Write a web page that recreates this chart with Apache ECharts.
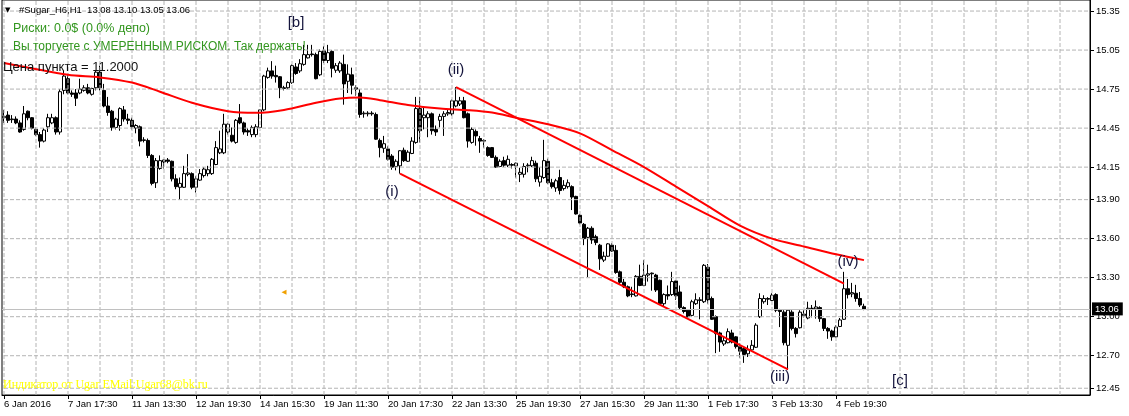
<!DOCTYPE html>
<html><head><meta charset="utf-8">
<script src="https://cdn.jsdelivr.net/npm/echarts@6/dist/echarts.min.js"></script>
<style>html,body{margin:0;padding:0;background:#fff}#c{width:1129px;height:416px}</style>
</head><body><div id="c"></div>
<script>
// ---- data (H1 bars) ----
const opens=[14.53,14.55,14.515,14.52,14.49,14.44,14.58,14.53,14.44,14.40,14.35,14.46,14.49,14.53,14.42,14.74,14.83,14.72,14.72,14.72,14.74,14.76,14.71,14.76,14.88,14.74,14.62,14.58,14.455,14.47,14.59,14.52,
14.51,14.45,14.46,14.355,14.355,14.24,14.03,14.14,14.19,14.205,14.195,14.06,13.995,13.995,14.095,14.10,13.995,14.05,14.085,14.10,14.10,14.17,14.26,14.26,14.42,14.395,14.34,14.53,14.49,14.43,14.40,14.40,
14.455,14.59,14.84,14.89,14.855,14.845,14.76,14.76,14.80,14.92,14.89,14.94,14.99,15.02,15.015,14.86,15.045,14.97,15.04,14.895,14.89,14.94,14.81,14.86,14.76,14.72,14.56,14.56,14.565,14.555,14.355,14.295,
14.29,14.235,14.155,14.16,14.28,14.195,14.255,14.34,14.60,14.53,14.53,14.56,14.44,14.51,14.54,14.56,14.56,14.62,14.635,14.66,14.56,14.34,14.425,14.37,14.355,14.30,14.30,14.225,14.155,14.20,14.165,14.17,
14.16,14.095,14.095,14.16,14.16,14.18,14.035,14.07,14.195,14.03,13.99,14.07,13.985,14.00,14.00,13.925,13.78,13.71,13.61,13.68,13.615,13.55,13.435,13.465,13.55,13.51,13.345,13.265,13.23,13.175,13.16,13.31,
13.24,13.32,13.335,13.32,13.28,13.10,13.17,13.17,13.275,13.19,13.07,13.05,13.01,13.10,13.125,13.115,13.38,13.14,13.00,12.875,12.79,12.80,12.875,12.845,12.77,12.755,12.715,12.745,12.765,13.00,13.115,13.14,
13.125,13.17,13.05,13.035,12.78,13.035,12.91,12.915,13.02,12.99,13.065,13.06,13.07,12.985,12.91,12.89,12.845,12.925,12.98,13.215,13.175,13.18,13.14,13.08];
const closes=[14.54,14.51,14.52,14.49,14.42,14.56,14.53,14.45,14.40,14.35,14.435,14.53,14.53,14.42,14.73,14.85,14.72,14.71,14.68,14.75,14.76,14.72,14.755,14.88,14.76,14.62,14.57,14.455,14.52,14.60,14.52,14.51,
14.46,14.47,14.35,14.36,14.24,14.025,14.20,14.20,14.205,14.195,14.06,14.00,14.025,14.10,14.105,13.995,14.06,14.10,14.135,14.13,14.21,14.30,14.29,14.48,14.48,14.35,14.51,14.49,14.42,14.42,14.455,14.46,
14.59,14.85,14.89,14.85,14.845,14.76,14.755,14.80,14.93,14.87,14.945,15.015,15.015,15.015,14.83,15.04,14.97,15.03,14.91,14.93,14.95,14.79,14.865,14.78,14.75,14.555,14.565,14.565,14.56,14.365,14.30,14.33,
14.21,14.15,14.195,14.276,14.20,14.265,14.35,14.60,14.43,14.55,14.56,14.43,14.42,14.54,14.56,14.57,14.66,14.66,14.66,14.53,14.35,14.44,14.39,14.35,14.35,14.24,14.225,14.15,14.195,14.165,14.21,14.165,
14.18,14.11,14.155,14.165,14.20,14.06,14.08,14.20,14.03,14.00,14.045,13.97,14.01,14.03,13.92,13.79,13.72,13.60,13.68,13.59,13.57,13.445,13.465,13.56,13.505,13.34,13.265,13.23,13.16,13.17,13.31,13.24,
13.32,13.33,13.33,13.205,13.10,13.17,13.16,13.27,13.16,13.07,13.04,13.00,13.115,13.13,13.13,13.395,13.13,12.98,12.87,12.805,12.815,12.885,12.805,12.77,12.735,12.71,12.745,12.78,12.935,13.14,13.14,13.135,
13.165,13.05,13.04,12.80,13.05,12.91,12.87,13.035,13.01,13.065,13.063,13.075,12.985,12.91,12.89,12.845,12.92,12.975,13.215,13.17,13.185,13.14,13.09,13.06];
const lows=[14.49,14.49,14.49,14.48,14.415,14.43,14.51,14.44,14.39,14.30,14.34,14.42,14.48,14.40,14.40,14.71,14.71,14.69,14.62,14.71,14.73,14.71,14.70,14.74,14.74,14.61,14.545,14.43,14.44,14.43,14.50,14.48,
14.44,14.41,14.31,14.34,14.22,14.01,13.99,14.13,14.14,14.18,14.04,13.98,13.90,13.99,14.08,13.98,13.955,14.045,14.07,14.08,14.09,14.165,14.25,14.25,14.40,14.34,14.33,14.48,14.40,14.39,14.38,14.38,
14.45,14.58,14.83,14.83,14.80,14.68,14.74,14.75,14.79,14.86,14.875,14.93,14.985,15.00,14.825,14.85,14.95,14.95,14.84,14.875,14.875,14.63,14.72,14.71,14.70,14.53,14.53,14.54,14.545,14.36,14.225,14.26,
14.20,14.13,14.125,14.10,14.19,14.19,14.25,14.33,14.34,14.44,14.38,14.40,14.39,14.455,14.39,14.545,14.545,14.61,14.62,14.525,14.30,14.33,14.315,14.26,14.30,14.23,14.22,14.145,14.15,14.15,14.15,14.14,
14.07,14.035,14.07,14.11,14.15,14.035,14.00,14.06,14.02,13.985,13.96,13.94,13.97,13.985,13.82,13.785,13.71,13.55,13.305,13.56,13.55,13.36,13.42,13.46,13.50,13.33,13.25,13.22,13.15,13.15,13.155,13.235,
13.235,13.27,13.20,13.19,13.09,13.08,13.13,13.16,13.13,13.055,13.025,12.995,13.00,13.09,12.98,13.105,13.10,12.975,12.72,12.73,12.775,12.795,12.795,12.755,12.685,12.645,12.69,12.735,12.76,12.99,13.10,13.09,
13.12,13.035,12.92,12.78,12.59,12.895,12.84,12.91,12.995,12.98,12.995,12.985,12.96,12.89,12.83,12.815,12.84,12.92,12.975,13.14,13.15,13.115,13.075,13.05];
const highs=[14.59,14.58,14.55,14.54,14.51,14.62,14.585,14.535,14.455,14.42,14.45,14.56,14.56,14.54,14.75,14.89,14.86,14.74,14.75,14.83,14.78,14.79,14.76,14.89,14.93,14.79,14.69,14.59,14.53,14.61,14.62,14.56,
14.53,14.48,14.47,14.38,14.37,14.25,14.22,14.24,14.21,14.22,14.20,14.095,14.07,14.16,14.25,14.11,14.08,14.135,14.15,14.16,14.22,14.35,14.43,14.56,14.49,14.455,14.52,14.635,14.50,14.45,14.47,14.48,
14.595,14.86,14.915,14.965,14.93,14.85,14.775,14.81,14.94,14.95,14.98,15.09,15.09,15.09,15.03,15.055,15.08,15.09,15.05,14.95,14.965,15.015,14.94,14.915,14.78,14.75,14.58,14.58,14.58,14.57,14.37,14.39,
14.31,14.25,14.21,14.28,14.30,14.28,14.38,14.69,14.69,14.61,14.58,14.57,14.47,14.56,14.58,14.595,14.67,14.765,14.69,14.69,14.57,14.455,14.44,14.39,14.365,14.31,14.305,14.24,14.21,14.23,14.24,14.18,
14.185,14.145,14.18,14.18,14.23,14.20,14.15,14.36,14.215,14.06,14.06,14.13,14.05,14.055,14.01,13.93,13.79,13.72,13.69,13.695,13.63,13.56,13.50,13.565,13.565,13.55,13.355,13.29,13.24,13.23,13.32,13.40,
13.435,13.40,13.34,13.33,13.285,13.18,13.24,13.345,13.28,13.24,13.08,13.055,13.13,13.18,13.15,13.405,13.405,13.155,13.01,12.885,12.85,12.91,12.90,12.85,12.795,12.77,12.78,12.82,12.95,13.18,13.165,13.15,
13.18,13.18,13.06,13.05,13.055,13.05,12.92,13.05,13.055,13.115,13.09,13.125,13.08,12.99,12.92,12.90,12.935,12.99,13.345,13.29,13.26,13.245,13.19,13.10];

const slotCount = 272;                       // bar slots visible across the window
const categories = Array.from({length: slotCount}, (_, i) => String(i));
const xTickLabels = ['6 Jan 2016','7 Jan 17:30','11 Jan 13:30','12 Jan 19:30','14 Jan 15:30','19 Jan 11:30','20 Jan 17:30','22 Jan 13:30','25 Jan 19:30','27 Jan 15:30','29 Jan 11:30','1 Feb 17:30','3 Feb 13:30','4 Feb 19:30'];
const yTickValues = [12.45,12.70,13.00,13.30,13.60,13.90,14.15,14.45,14.75,15.05,15.35];
const lastPrice = 13.06;

// moving average (read at sample bars)
const maBars   = [0,16,24,32,39,47,56,63,70,78,84,89,94,101,109,116,122,128,136,144,152,160,168,176,184,192,200,208,215];
const maValues = [14.95,14.86,14.84,14.80,14.73,14.645,14.58,14.568,14.59,14.645,14.678,14.686,14.665,14.627,14.60,14.588,14.57,14.53,14.48,14.41,14.28,14.15,14.00,13.85,13.70,13.60,13.54,13.48,13.435];

// channel lines [bar, price]
const channelUpper = [[113,14.765],[210,13.255]];
const channelLower = [[99,14.10],[196,12.595]];

// wave labels
const waveTexts  = ['[b]','(ii)','(i)','(iii)','(iv)','[c]'];
const waveBars   = [73,113,97,194,211,224];
const wavePrices = [15.26,14.90,13.962,12.536,13.418,12.505];

// ---- chart ----
const yMin = 12.398, yMax = 15.435;
const candleData = opens.map((o, i) => [o, closes[i], lows[i], highs[i]]);
const gridBars = [];
for (let b = 0; b < slotCount; b += 8) gridBars.push(b);
const showTick = i => i % 16 === 0 && i / 16 < xTickLabels.length;
const F = '"Liberation Sans", Arial, sans-serif';
const gridStyle = {color: '#b4b4b4', width: 1, type: 'dashed'};

// grid lines: one line series per grid line (null breaks between segments)
const vData = [];
gridBars.forEach(b => { vData.push([b, yMin], [b, yMax], [b, null]); });
const hData = [];
yTickValues.forEach(v => { hData.push([0, v], [slotCount - 1, v], [slotCount - 1, null]); });

const chart = echarts.init(document.getElementById('c'), null, {renderer: 'canvas'});
chart.setOption({
  animation: false,
  backgroundColor: '#fff',
  grid: {left: 2, top: -1, width: 1088, height: 396, show: true, borderColor: '#000', borderWidth: 1},
  xAxis: {
    type: 'category', data: categories, boundaryGap: true,
    axisLine: {show: true, lineStyle: {color: '#000', width: 1}},
    axisTick: {show: true, interval: showTick, alignWithLabel: true, length: 4, lineStyle: {color: '#000'}},
    axisLabel: {interval: showTick, formatter: (v, i) => xTickLabels[i / 16] || '', align: 'left', margin: 4,
      color: '#000', fontFamily: F, fontSize: 9.5},
    splitLine: {show: false}
  },
  yAxis: {
    type: 'value', position: 'right', min: yMin, max: yMax, scale: true,
    axisLine: {show: true, lineStyle: {color: '#000', width: 1}},
    axisTick: {show: true, customValues: yTickValues, length: 4, lineStyle: {color: '#000'}},
    axisLabel: {customValues: yTickValues, formatter: v => v.toFixed(2), color: '#000', fontFamily: F, fontSize: 9.5, margin: 6},
    splitLine: {show: false}
  },
  series: [
    {type: 'line', data: vData, symbol: 'none', connectNulls: false, silent: true, lineStyle: gridStyle, emphasis: {disabled: true}},
    {type: 'line', data: hData, symbol: 'none', connectNulls: false, silent: true, lineStyle: gridStyle, emphasis: {disabled: true}},
    {
      type: 'line', data: [], silent: true,
      markLine: {
        silent: true, symbol: ['none', 'none'], animation: false,
        lineStyle: {color: '#c0c0c0', type: 'solid', width: 1},
        emphasis: {disabled: true},
        label: {show: true, position: 'end', distance: 2, formatter: lastPrice.toFixed(2), color: '#fff',
          backgroundColor: '#000', padding: [2, 4, 1, 3], fontFamily: F, fontSize: 9.5},
        data: [{yAxis: lastPrice}]
      }
    },
    {
      type: 'candlestick', data: candleData, barWidth: 3,
      itemStyle: {color: '#fff', color0: '#000', borderColor: '#000', borderColor0: '#000', borderColorDoji: '#000', borderWidth: 1},
      markPoint: {
        silent: true, animation: false,
        data: waveTexts.map((t, i) => ({
          name: t, coord: [waveBars[i], wavePrices[i]], symbol: 'circle', symbolSize: 0,
          label: {show: true, position: 'inside', formatter: '{b}', color: '#14143c', fontFamily: F, fontSize: 15}
        })).concat([{
          name: 'arrow', coord: [70, 13.188], symbol: 'triangle', symbolSize: 5, symbolRotate: 90,
          itemStyle: {color: '#f0a000'}, label: {show: false}
        }])
      }
    },
    {
      type: 'line', data: maBars.map((b, i) => [b, maValues[i]]), smooth: 0.3, symbol: 'none',
      lineStyle: {color: '#ff0000', width: 2}
    },
    {type: 'line', data: channelUpper, symbol: 'none', lineStyle: {color: '#ff0000', width: 2}},
    {type: 'line', data: channelLower, symbol: 'none', lineStyle: {color: '#ff0000', width: 2}}
  ],
  graphic: [
    {type: 'text', x: 5, y: 10, z: 10, style: {text: '▼', fill: '#000', font: '7px "DejaVu Sans"', verticalAlign: 'middle'}},
    {type: 'text', x: 19, y: 10, z: 10, style: {text: '#Sugar_H6,H1  13.08 13.10 13.05 13.06', fill: '#000', font: '9.5px ' + F, verticalAlign: 'middle'}},
    {type: 'text', x: 13, y: 29, z: 10, style: {text: 'Риски: 0.0$ (0.0% депо)', fill: '#32961e', font: '12.5px ' + F, verticalAlign: 'middle'}},
    {type: 'text', x: 13, y: 47, z: 10, style: {text: 'Вы торгуете с УМЕРЕННЫМ РИСКОМ. Так держать!', fill: '#32961e', font: '12px ' + F, verticalAlign: 'middle'}},
    {type: 'text', x: 3, y: 67, z: 10, style: {text: 'Цена пункта = 11.2000', fill: '#111', font: '13px ' + F, verticalAlign: 'middle'}},
    {type: 'text', x: 3, y: 385, z: 10, style: {text: 'Индикатор от Ugar EMail:Ugar68@bk.ru', fill: '#ffff00', font: '12px "Liberation Serif", serif', verticalAlign: 'middle'}}
  ]
});
</script>
</body></html>
